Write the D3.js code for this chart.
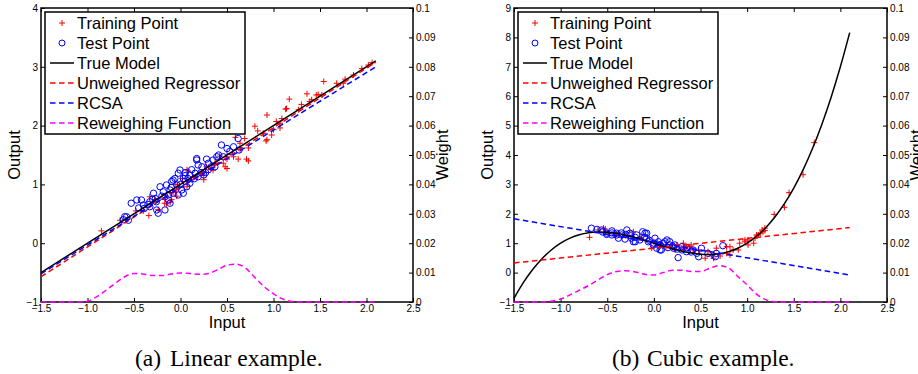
<!DOCTYPE html>
<html>
<head>
<meta charset="utf-8">
<script src="https://cdn.jsdelivr.net/npm/d3@7"></script>
<style>
  body { margin: 0; background: #fff; }
  svg { display: block; }
</style>
</head>
<body>
<svg id="chart" width="918" height="374"></svg>
<script>
const xTicks = [-1.5, -1, -0.5, 0, 0.5, 1, 1.5, 2, 2.5];
const wTicks = [0, 0.01, 0.02, 0.03, 0.04, 0.05, 0.06, 0.07, 0.08, 0.09, 0.1];
const legendLabels = ["Training Point", "Test Point", "True Model", "Unweighed Regressor", "RCSA", "Reweighing Function"];

// (a) linear example
const trainA = [
  [-0.85,0.21],[-0.65,0.39],[-0.40,0.55],[-0.34,0.47],[-0.33,0.79],[-0.24,0.57],[-0.17,0.68],[-0.15,0.67],
  [-0.11,0.70],[-0.095,0.74],[-0.08,0.86],[-0.04,0.80],[-0.04,0.91],[0.07,0.96],[0.07,1.25],[0.08,1.23],
  [0.12,1.08],[0.17,1.13],[0.21,1.19],[0.25,1.08],[0.25,1.16],[0.35,1.24],[0.37,1.33],[0.37,1.36],
  [0.46,1.36],[0.48,1.30],[0.50,1.27],[0.50,1.43],[0.50,1.47],[0.57,1.47],[0.59,1.80],[0.62,1.43],
  [0.64,1.59],[0.64,1.70],[0.69,1.78],[0.71,1.43],[0.73,1.40],[0.73,1.62],[0.80,1.99],[0.83,1.91],
  [0.89,1.87],[0.92,1.74],[0.93,2.18],[0.93,1.76],[0.98,1.84],[1.00,1.93],[1.03,2.07],[1.07,1.96],
  [1.07,2.04],[1.09,2.12],[1.13,2.28],[1.14,2.29],[1.17,2.45],[1.27,2.27],[1.30,2.36],[1.36,2.54],
  [1.39,2.41],[1.41,2.44],[1.46,2.52],[1.48,2.53],[1.52,2.52],[1.54,2.75],[1.68,2.72],[1.75,2.72],
  [1.77,2.79],[1.86,2.86],[1.95,2.97],[2.02,3.03],[2.06,3.07],
  [-0.48,0.55],[-0.28,0.74],[-0.05,1.0],[0.02,1.1],[0.14,1.12],[0.28,1.3],[0.42,1.48]
];
const testA = [
  [-0.615,0.40],[-0.60,0.45],[-0.58,0.45],[-0.56,0.39],[-0.53,0.68],[-0.47,0.735],[-0.42,0.735],[-0.40,0.65],
  [-0.39,0.59],[-0.33,0.705],[-0.33,0.62],[-0.29,0.85],[-0.27,0.76],[-0.256,0.565],[-0.26,0.705],[-0.24,0.51],
  [-0.22,0.96],[-0.185,0.875],[-0.167,0.79],[-0.167,0.565],[-0.15,0.99],[-0.13,0.735],[-0.13,0.82],[-0.113,0.905],
  [-0.113,0.68],[-0.095,1.05],[-0.08,0.85],[-0.08,1.075],[-0.06,1.10],[-0.04,0.99],[-0.024,0.82],[-0.024,1.19],
  [-0.005,1.245],[0.013,0.905],[0.03,0.85],[0.03,1.10],[0.048,1.05],[0.067,0.96],[0.08,1.10],[0.10,1.16],
  [0.10,1.02],[0.156,1.19],[0.174,1.415],[0.174,1.44],[0.19,1.13],[0.19,1.33],[0.23,1.30],[0.25,1.16],
  [0.28,1.43],[0.30,1.36],[0.35,1.415],[0.37,1.30],[0.39,1.47],[0.41,1.50],[0.44,1.67],[0.46,1.47],
  [0.50,1.61],[0.53,1.56],[0.57,1.64],[0.62,1.78],[0.63,1.585],
  [-0.35,0.66],[-0.2,0.8],[-0.1,0.95],[0.0,1.0],[0.05,1.15],[0.15,1.1],[0.22,1.2],[0.3,1.25],
  [0.33,1.3],[-0.45,0.6],[-0.3,0.75],[0.05,1.2],[0.12,1.25],[0.27,1.2]
];
const trueA = [[-1.5,-0.5],[2.1,3.1]];
const unweighedA = [[-1.5,-0.57],[2.1,3.08]];
const rcsaA = [[-1.5,-0.52],[2.1,3.0]];
const weightX = [-1.5,-1.4,-1.3,-1.2,-1.1,-1.0,-0.9,-0.8,-0.7,-0.6,-0.5,-0.4,-0.3,-0.2,-0.1,0,
  0.1,0.2,0.3,0.4,0.5,0.6,0.7,0.8,0.9,1.0,1.1,1.2,1.3,1.4,1.5,1.6,1.7,1.8,1.9,2.0,2.1];
const weightA = [0,0,0,0,0,0.0003,0.0018,0.0040,0.0064,0.0086,0.0097,0.0095,0.0090,0.0090,0.0095,0.0099,
  0.0097,0.0094,0.0097,0.0110,0.0125,0.0129,0.0115,0.0083,0.0052,0.0028,0.0010,0.0002,0,0,0,0,0,0,0,0,0];

// (b) cubic example
const trainB = [
  [-0.69,1.20],[-0.60,1.45],[-0.54,1.51],[-0.52,1.48],[-0.49,1.34],[-0.22,1.39],[-0.023,0.83],[0.08,0.94],
  [0.14,0.88],[0.227,0.77],[0.245,0.94],[0.30,0.83],[0.316,1.0],[0.35,0.88],[0.387,0.88],[0.40,0.94],
  [0.42,0.77],[0.48,0.77],[0.55,0.49],[0.58,0.71],[0.62,0.565],[0.64,0.49],[0.67,0.83],[0.71,0.565],
  [0.78,0.655],[0.78,0.88],[0.816,0.88],[0.816,0.60],[0.85,0.77],[0.905,0.77],[0.92,1.0],[0.977,1.11],
  [0.977,1.05],[1.01,0.94],[1.01,1.11],[1.07,1.0],[1.085,1.17],[1.10,1.28],[1.12,1.28],[1.14,1.34],
  [1.16,1.45],[1.17,1.39],[1.19,1.51],[1.19,1.43],[1.29,1.98],[1.40,2.22],[1.45,2.72],[1.60,3.33],[1.72,4.42],
  [-0.4,1.3],[-0.3,1.25],[-0.15,1.2],[0.0,1.05],[0.1,0.9],[0.2,0.95]
];
const testB = [
  [-0.67,1.51],[-0.61,1.47],[-0.56,1.45],[-0.506,1.34],[-0.506,1.30],[-0.45,1.28],[-0.45,1.42],[-0.40,1.28],
  [-0.40,1.34],[-0.38,1.17],[-0.345,1.28],[-0.31,1.14],[-0.29,1.45],[-0.256,1.34],[-0.24,1.17],[-0.22,1.05],
  [-0.20,1.05],[-0.184,1.28],[-0.15,1.11],[-0.12,1.39],[-0.095,1.34],[-0.077,1.34],[-0.077,1.17],[-0.06,1.05],
  [-0.006,0.94],[0.012,1.17],[0.03,0.83],[0.048,1.05],[0.066,0.94],[0.066,0.77],[0.08,0.77],[0.12,1.05],
  [0.14,1.11],[0.17,0.94],[0.17,1.05],[0.21,0.83],[0.227,0.94],[0.26,0.51],[0.30,0.77],[0.30,0.88],
  [0.35,0.71],[0.42,0.77],[0.46,0.655],[0.48,0.54],[0.51,0.83],[0.58,0.655],[0.66,0.54],[0.67,0.655],[0.74,0.915],
  [-0.55,1.38],[-0.35,1.35],[-0.3,1.3],[-0.2,1.2],[-0.1,1.2],[-0.05,1.1],[0.0,1.0],[0.05,0.95],
  [0.1,1.0],[0.15,0.85],[0.2,0.9],[0.25,0.8],[0.35,0.85],[0.4,0.7],[-0.45,1.35],[-0.25,1.25]
];
const trueB = [-0.875,-0.344,0.103,0.472,0.769,1.0,1.171,1.288,1.357,1.384,1.375,1.336,1.273,1.192,1.099,1.0,
  0.901,0.808,0.727,0.664,0.625,0.616,0.643,0.712,0.829,1.0,1.231,1.528,1.897,2.344,2.875,3.496,4.213,5.032,5.959,7.0,8.161];
const unweighedB = [[-1.5,0.33],[2.1,1.53]];
const rcsaB = [[-1.5,1.83],[2.1,-0.08]];
const weightB = [0,0,0,0,0.0003,0.0010,0.0024,0.0040,0.0056,0.0075,0.0093,0.0104,0.0106,0.0102,0.0094,0.0092,
  0.0100,0.0108,0.0108,0.0104,0.0104,0.0115,0.0124,0.0116,0.0087,0.0058,0.0027,0.0008,0.0001,0,0,0,0,0,0,0,0];

const svg = d3.select("#chart");
const dash = "5.5,3.5";

function drawPanel(p) {
  const x = d3.scaleLinear([-1.5, 2.5], [p.left, p.right]);
  const y = d3.scaleLinear(p.ydom, [p.bottom, p.top]);
  const w = d3.scaleLinear([0, 0.1], [p.bottom, p.top]);
  const g = svg.append("g").attr("font-family", "'Liberation Sans', Arial, sans-serif");

  const axes = g.append("g").attr("font-size", 8);
  axes.append("g").attr("transform", `translate(0,${p.bottom})`)
    .call(d3.axisBottom(x).tickValues(xTicks).tickSizeInner(-4).tickSizeOuter(0).tickPadding(3));
  axes.append("g").attr("transform", `translate(0,${p.top})`)
    .call(d3.axisTop(x).tickValues(xTicks).tickSizeInner(-4).tickSizeOuter(0).tickFormat(""));
  axes.append("g").attr("transform", `translate(${p.left},0)`)
    .call(d3.axisLeft(y).tickValues(p.yticks).tickSizeInner(-4).tickSizeOuter(0).tickPadding(3).tickFormat(d3.format("d")));
  axes.append("g").attr("transform", `translate(${p.right},0)`)
    .call(d3.axisRight(w).tickValues(wTicks).tickSizeInner(-4).tickSizeOuter(0).tickPadding(3).tickFormat(d => d === 0 ? "0" : d3.format(".2~f")(d)));
  axes.selectAll(".domain").remove();
  axes.selectAll("text").attr("fill", "#000").attr("font-family", "'Liberation Sans', Arial, sans-serif");

  g.append("rect")
    .attr("x", p.left).attr("y", p.top)
    .attr("width", p.right - p.left).attr("height", p.bottom - p.top)
    .attr("fill", "none").attr("stroke", "#000").attr("stroke-width", 1.5);

  // training points
  g.append("g").selectAll("path").data(p.train).join("path")
    .attr("transform", d => `translate(${x(d[0])},${y(d[1])})`)
    .attr("d", "M-3,0H3M0,-3V3")
    .attr("stroke", "#ff0000").attr("stroke-width", 1).attr("fill", "none");

  // test points
  g.append("g").selectAll("circle").data(p.test).join("circle")
    .attr("cx", d => x(d[0])).attr("cy", d => y(d[1])).attr("r", 3.2)
    .attr("stroke", "#0000ff").attr("stroke-width", 1).attr("fill", "none");

  const line = d3.line().x(d => x(d[0])).y(d => y(d[1]));
  g.append("path").datum(p.trueModel).attr("d", line.curve(d3.curveCatmullRom)).attr("fill", "none")
    .attr("stroke", "#000").attr("stroke-width", 1.5);
  g.append("path").datum(p.unweighed).attr("d", d3.line().x(d => x(d[0])).y(d => y(d[1]))).attr("fill", "none")
    .attr("stroke", "#ff0000").attr("stroke-width", 1.5).attr("stroke-dasharray", dash);
  g.append("path").datum(p.rcsa).attr("d", d3.line().x(d => x(d[0])).y(d => y(d[1]))).attr("fill", "none")
    .attr("stroke", "#0000ff").attr("stroke-width", 1.5).attr("stroke-dasharray", dash);
  g.append("path").datum(weightX.map((v, i) => [v, p.weight[i]]))
    .attr("d", d3.line().x(d => x(d[0])).y(d => w(d[1])).curve(d3.curveMonotoneX))
    .attr("fill", "none").attr("stroke", "#ff00ff").attr("stroke-width", 1.5).attr("stroke-dasharray", dash);

  // legend
  const lx = p.left + 4, ly = p.top + 4;
  const lg = g.append("g").attr("transform", `translate(${lx},${ly})`);
  lg.append("rect").attr("width", 200).attr("height", 122)
    .attr("fill", "#fff").attr("stroke", "#000").attr("stroke-width", 1.5);
  legendLabels.forEach((lab, i) => {
    const cy = 11 + i * 20;
    if (i === 0) {
      lg.append("path").attr("transform", `translate(17,${cy})`).attr("d", "M-3,0H3M0,-3V3")
        .attr("stroke", "#ff0000").attr("stroke-width", 1);
    } else if (i === 1) {
      lg.append("circle").attr("cx", 17).attr("cy", cy).attr("r", 3)
        .attr("fill", "none").attr("stroke", "#0000ff").attr("stroke-width", 1);
    } else {
      const col = ["#000", "#ff0000", "#0000ff", "#ff00ff"][i - 2];
      lg.append("line").attr("x1", 5).attr("x2", 29).attr("y1", cy).attr("y2", cy)
        .attr("stroke", col).attr("stroke-width", 1.5)
        .attr("stroke-dasharray", i === 2 ? null : dash);
    }
    lg.append("text").attr("x", 32).attr("y", cy + 6).attr("font-size", 16.5).text(lab);
  });

  // axis labels
  const mid = (p.top + p.bottom) / 2;
  g.append("text").attr("transform", `translate(${p.left - 21},${mid}) rotate(-90)`)
    .attr("text-anchor", "middle").attr("font-size", 16.5).text("Output");
  g.append("text").attr("x", (p.left + p.right) / 2).attr("y", 328)
    .attr("text-anchor", "middle").attr("font-size", 16.5).text("Input");
  g.append("text").attr("transform", `translate(${p.right + 35},${mid}) rotate(-90)`)
    .attr("text-anchor", "middle").attr("font-size", 16.5).text("Weight");

  // caption
  const cap = svg.append("g").attr("font-family", "'Liberation Serif', 'Times New Roman', serif").attr("font-size", 23.5);
  cap.append("text").attr("x", p.capX).attr("y", 366).text(p.capTag);
  cap.append("text").attr("x", p.capX + 35).attr("y", 366).text(p.capText);
}

drawPanel({
  left: 41, right: 413, top: 8, bottom: 302, ydom: [-1, 4], yticks: [-1, 0, 1, 2, 3, 4],
  train: trainA, test: testA, trueModel: trueA, unweighed: unweighedA, rcsa: rcsaA, weight: weightA,
  capX: 135, capTag: "(a)", capText: "Linear example."
});
drawPanel({
  left: 514, right: 887, top: 8, bottom: 302, ydom: [-1, 9], yticks: [-1, 0, 1, 2, 3, 4, 5, 6, 7, 8, 9],
  train: trainB, test: testB, trueModel: weightX.map((v, i) => [v, trueB[i]]), unweighed: unweighedB, rcsa: rcsaB, weight: weightB,
  capX: 612, capTag: "(b)", capText: "Cubic example."
});
</script>
</body>
</html>
